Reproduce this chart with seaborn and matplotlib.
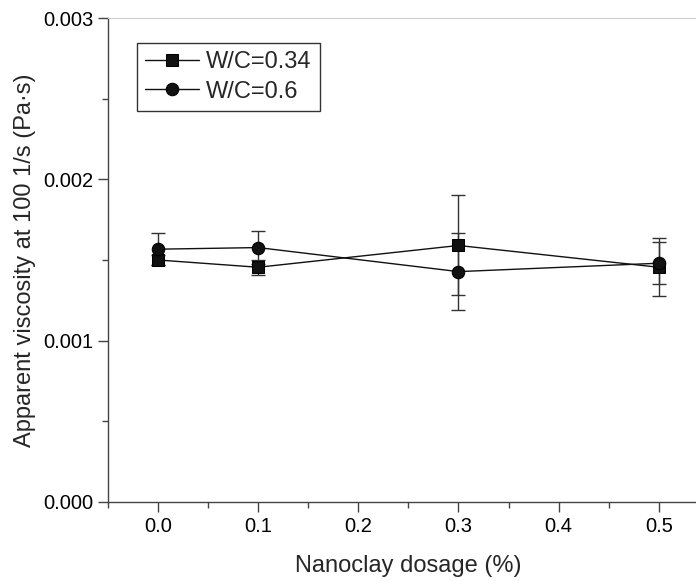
import numpy as np
import pandas as pd
import seaborn as sns
import matplotlib.pyplot as plt
from matplotlib.ticker import MultipleLocator, FormatStrFormatter

# Set plot style
sns.set_style("ticks")
plt.rcParams['font.family'] = ['Liberation Sans', 'DejaVu Sans']

## Data
dosage = [0.0, 0.1, 0.3, 0.5]
series = ['W/C=0.34', 'W/C=0.6']
visc_034 = [0.00150, 0.001455, 0.00159, 0.001455]
err_034 = [0.00003, 0.000046, 0.00031, 0.00018]
visc_06 = [0.001567, 0.001577, 0.001428, 0.00148]
err_06 = [0.0001, 0.0001, 0.00024, 0.00013]

tb = pd.DataFrame({
    'dosage': dosage * 2,
    'visc': visc_034 + visc_06,
    'err': err_034 + err_06,
    'series': [series[0]] * len(dosage) + [series[1]] * len(dosage),
})

fig = plt.figure(figsize=(6.96, 5.81), dpi=100)
ax = fig.add_axes([0.155, 0.136, 0.8635, 0.833])

## error bars first, then lines + markers on top
for s in series:
    sub = tb[tb['series'] == s]
    ax.errorbar(sub['dosage'], sub['visc'], yerr=sub['err'], fmt='none',
                ecolor='#333333', elinewidth=1, capsize=5, capthick=1, zorder=2)

sns.lineplot(data=tb, x='dosage', y='visc', hue='series', style='series',
             markers={series[0]: 's', series[1]: 'o'}, dashes=False,
             palette=['#111111', '#111111'], markersize=9, linewidth=1,
             markeredgecolor='black', errorbar=None, sort=False, ax=ax, zorder=3)

ax.set_xlim(-0.05, 0.55)
ax.set_ylim(0, 0.003)
ax.xaxis.set_major_locator(MultipleLocator(0.1))
ax.xaxis.set_minor_locator(MultipleLocator(0.05))
ax.yaxis.set_major_locator(MultipleLocator(0.001))
ax.yaxis.set_minor_locator(MultipleLocator(0.0005))
ax.xaxis.set_major_formatter(FormatStrFormatter('%.1f'))
ax.yaxis.set_major_formatter(FormatStrFormatter('%.3f'))

for side in ['left', 'bottom']:
    ax.spines[side].set_color('#444444')
    ax.spines[side].set_linewidth(1)
ax.spines['top'].set_color('#cccccc')
ax.spines['right'].set_visible(False)
ax.tick_params(which='major', direction='out', length=7, width=1, color='#444444',
               labelsize=14.5, labelcolor='black')
ax.tick_params(which='minor', direction='out', length=4, width=1, color='#444444')

ax.set_xlabel('Nanoclay dosage (%)', fontsize=17, labelpad=14)
ax.set_ylabel('Apparent viscosity at 100 1/s (Pa·s)', fontsize=17, labelpad=5)

leg = ax.legend(loc='upper left', bbox_to_anchor=(0.048, 0.948), borderaxespad=0,
                fancybox=False, edgecolor='black', fontsize=17, handlelength=2.3,
                handletextpad=0.3, labelspacing=0.3, borderpad=0.35)
leg.get_frame().set_linewidth(1)

plt.savefig('out.png', dpi=100)
